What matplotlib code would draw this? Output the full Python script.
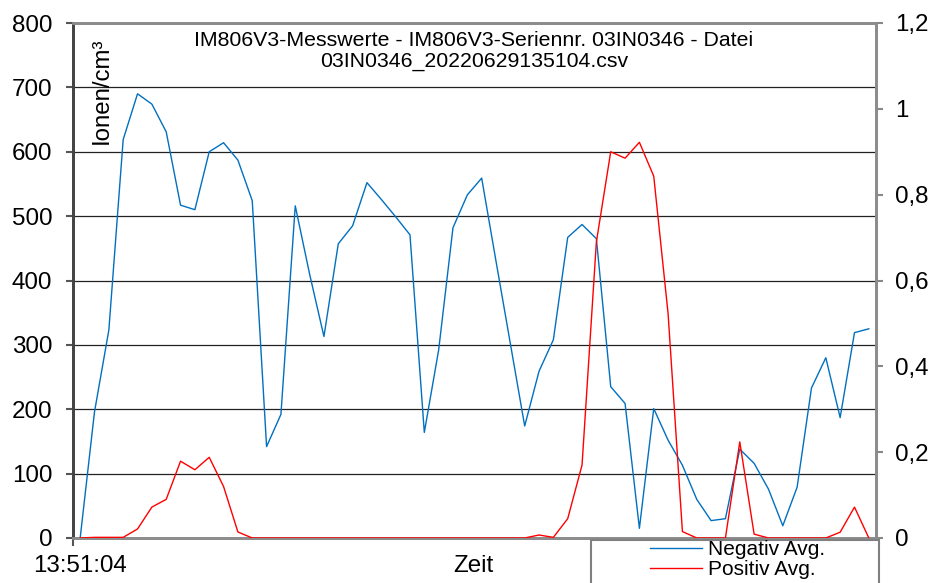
import matplotlib
matplotlib.use("Agg")
import matplotlib.pyplot as plt
from matplotlib.lines import Line2D
from matplotlib.patches import Rectangle
import numpy as np

plt.rcParams['font.family'] = ['Liberation Sans', 'DejaVu Sans']

# Ionen/cm3, one sample per category
negativ_avg = [0, 196, 323, 619, 690, 674, 631, 517, 510, 600,
               614, 587, 524, 142, 192, 516, 410, 313, 457, 485,
               552, 526, 499, 471, 164, 292, 482, 533, 559, 430,
               302, 174, 259, 308, 467, 487, 465, 235, 209, 15,
               201, 152, 113, 60, 27, 30, 138, 116, 76, 19,
               79, 233, 280, 187, 319, 325]

# right axis (0 .. 1,2)
positiv_avg = [0, 0.0015, 0.0015, 0.0015, 0.021, 0.072, 0.09, 0.179, 0.159, 0.188,
               0.12, 0.014, 0, 0, 0, 0, 0, 0, 0, 0,
               0, 0, 0, 0, 0, 0, 0, 0, 0, 0,
               0, 0, 0.007, 0.0015, 0.045, 0.17, 0.69, 0.9, 0.885, 0.922,
               0.843, 0.523, 0.015, 0, 0, 0, 0.224, 0.009, 0, 0,
               0, 0, 0, 0.0135, 0.072, 0]

left_ticks = [0, 100, 200, 300, 400, 500, 600, 700, 800]
right_ticks = [0, 0.2, 0.4, 0.6, 0.8, 1.0, 1.2]
right_labels = ['0', '0,2', '0,4', '0,6', '0,8', '1', '1,2']
start_label = '13:51:04'
title = 'IM806V3-Messwerte - IM806V3-Seriennr. 03IN0346 - Datei\n03IN0346_20220629135104.csv'

fig = plt.figure(figsize=(9.35, 5.83), dpi=100)
ax = fig.add_axes([73 / 935, 45 / 583, 803 / 935, 515 / 583])
ax2 = ax.twinx()

x = np.arange(len(negativ_avg))
ax.plot(x, negativ_avg, color='#0070C0', lw=1.0, zorder=3)
ax2.plot(x, positiv_avg, color='#FF0000', lw=1.0, zorder=3)

ax.set_xlim(-0.5, len(negativ_avg) - 0.5)
ax.set_ylim(0, 800)
ax2.set_ylim(0, 1.2)

ax.set_yticks(left_ticks)
ax.set_yticklabels([str(t) for t in left_ticks])
ax2.set_yticks(right_ticks)
ax2.set_yticklabels(right_labels)

for t in left_ticks[1:-1]:
    ax.axhline(t, color='#222222', lw=0.9, zorder=1)

ax.set_xticks([-0.5])
ax.set_xticklabels([''])
ax.tick_params(axis='x', length=6, width=1.5, color='#555555')
ax.tick_params(axis='y', length=5, width=1.5, color='#555555', labelsize=17.4, pad=10)
ax2.tick_params(axis='y', length=5, width=1.5, color='#888888', labelsize=17.4, pad=8.5)

for a in (ax, ax2):
    a.spines['left'].set_color('#444444')
    a.spines['left'].set_linewidth(2)
    a.spines['right'].set_color('#8c8c8c')
    a.spines['right'].set_linewidth(2)
    a.spines['top'].set_color('#8c8c8c')
    a.spines['top'].set_linewidth(2)
    a.spines['bottom'].set_color('#8c8c8c')
    a.spines['bottom'].set_linewidth(2)

fig.text(474 / 935, 1 - 31 / 583, title, ha='center', va='top',
         fontsize=15.3, linespacing=1.1)
fig.text(102 / 935, 1 - 37 / 583, 'Ionen/cm³', rotation=90,
         ha='center', va='top', fontsize=17.3)

fig.text(80 / 935, 1 - 566 / 583, start_label, ha='center', va='center', fontsize=17.4)
fig.text(473 / 935, 1 - 566 / 583, 'Zeit', ha='center', va='center', fontsize=17.4)

# legend box at bottom right, cut off by the figure edge
fig.patches.append(Rectangle((591 / 935, -0.05), 288 / 935, 0.05 + 43 / 583,
                             transform=fig.transFigure, facecolor='white',
                             edgecolor='#808080', lw=1.5, zorder=5))
handles = [Line2D([], [], color='#0070C0', lw=1.0),
           Line2D([], [], color='#FF0000', lw=1.0)]
leg = fig.legend(handles, ['Negativ Avg.', 'Positiv Avg.'], loc='upper left',
                 bbox_to_anchor=(650 / 935, 1 - 540 / 583), frameon=False,
                 fontsize=15, borderpad=0, borderaxespad=0, handlelength=2.5,
                 handletextpad=0.3, labelspacing=0.05)
leg.set_zorder(6)

fig.savefig('out.png', dpi=100)
